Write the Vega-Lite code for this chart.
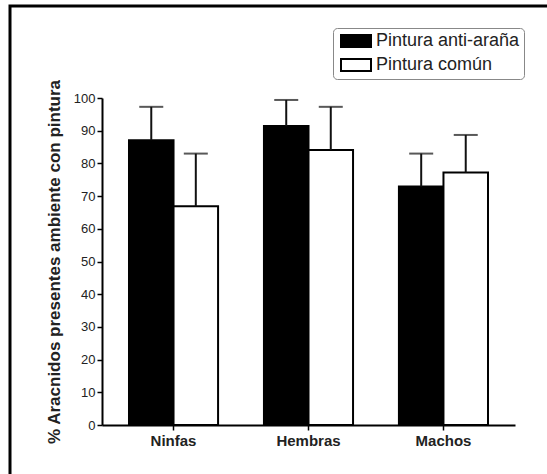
{
  "$schema": "https://vega.github.io/schema/vega-lite/v6.json",
  "width": 540,
  "height": 470,
  "autosize": {"type": "none"},
  "padding": {"left": 10, "top": 6, "right": -3, "bottom": -2},
  "background": "#ffffff",
  "config": {
    "view": {"stroke": "#000000", "strokeWidth": 3},
    "font": "Liberation Sans"
  },
  "data": {
    "values": [
      {"grupo": "Ninfas", "pintura": "Pintura anti-araña", "media": 87.1, "sup": 97.3},
      {"grupo": "Ninfas", "pintura": "Pintura común", "media": 66.9, "sup": 83.0},
      {"grupo": "Hembras", "pintura": "Pintura anti-araña", "media": 91.4, "sup": 99.4},
      {"grupo": "Hembras", "pintura": "Pintura común", "media": 84.1, "sup": 97.3},
      {"grupo": "Machos", "pintura": "Pintura anti-araña", "media": 72.9, "sup": 83.0},
      {"grupo": "Machos", "pintura": "Pintura común", "media": 77.2, "sup": 88.7}
    ]
  },
  "encoding": {
    "x": {
      "field": "grupo",
      "type": "nominal",
      "sort": ["Ninfas", "Hembras", "Machos"],
      "scale": {"range": [92, 505], "paddingInner": 0.34, "paddingOuter": 0.2},
      "axis": {
        "title": null,
        "orient": "bottom",
        "offset": -51,
        "labelAngle": 0,
        "labelFontSize": 15,
        "labelFontWeight": "bold",
        "labelColor": "#222222",
        "labelPadding": 3,
        "domainColor": "#000000",
        "domainWidth": 2,
        "tickColor": "#000000",
        "tickSize": 5,
        "tickWidth": 1.5
      }
    },
    "xOffset": {
      "field": "pintura",
      "type": "nominal",
      "sort": ["Pintura anti-araña", "Pintura común"],
      "scale": {"paddingInner": 0, "paddingOuter": 0}
    }
  },
  "layer": [
    {
      "mark": {"type": "bar", "stroke": "#000000", "strokeWidth": 2},
      "encoding": {
        "y": {
          "field": "media",
          "type": "quantitative",
          "scale": {"domain": [0, 100], "range": [419, 92]},
          "axis": {
            "orient": "left",
            "offset": -92,
            "values": [0, 10, 20, 30, 40, 50, 60, 70, 80, 90, 100],
            "grid": false,
            "title": "% Aracnidos presentes ambiente con pintura",
            "titleFontSize": 17,
            "titleFontWeight": "bold",
            "titleColor": "#222222",
            "titlePadding": 10,
            "labelFontSize": 13,
            "labelColor": "#222222",
            "labelPadding": 2,
            "domainColor": "#000000",
            "domainWidth": 2,
            "tickColor": "#000000",
            "tickSize": 5,
            "tickWidth": 1.5
          }
        },
        "fill": {
          "field": "pintura",
          "type": "nominal",
          "scale": {"domain": ["Pintura anti-araña", "Pintura común"], "range": ["#000000", "#ffffff"]},
          "legend": {
            "orient": "none",
            "legendX": 323,
            "legendY": 22,
            "title": null,
            "strokeColor": "#888888",
            "cornerRadius": 4,
            "padding": 4,
            "symbolType": "M-2,-0.8H2V0.8H-2Z",
            "symbolSize": 225,
            "symbolOffset": 10,
            "symbolStrokeColor": "#000000",
            "symbolStrokeWidth": 2,
            "symbolOpacity": 1,
            "labelFontSize": 18,
            "labelColor": "#222222",
            "labelOffset": 11,
            "rowPadding": 4
          }
        }
      }
    },
    {
      "mark": {"type": "rule", "color": "#111111", "strokeWidth": 2},
      "encoding": {
        "y": {"field": "media", "type": "quantitative"},
        "y2": {"field": "sup"}
      }
    },
    {
      "mark": {"type": "tick", "color": "#111111", "thickness": 2, "size": 24},
      "encoding": {
        "y": {"field": "sup", "type": "quantitative"}
      }
    }
  ]
}
